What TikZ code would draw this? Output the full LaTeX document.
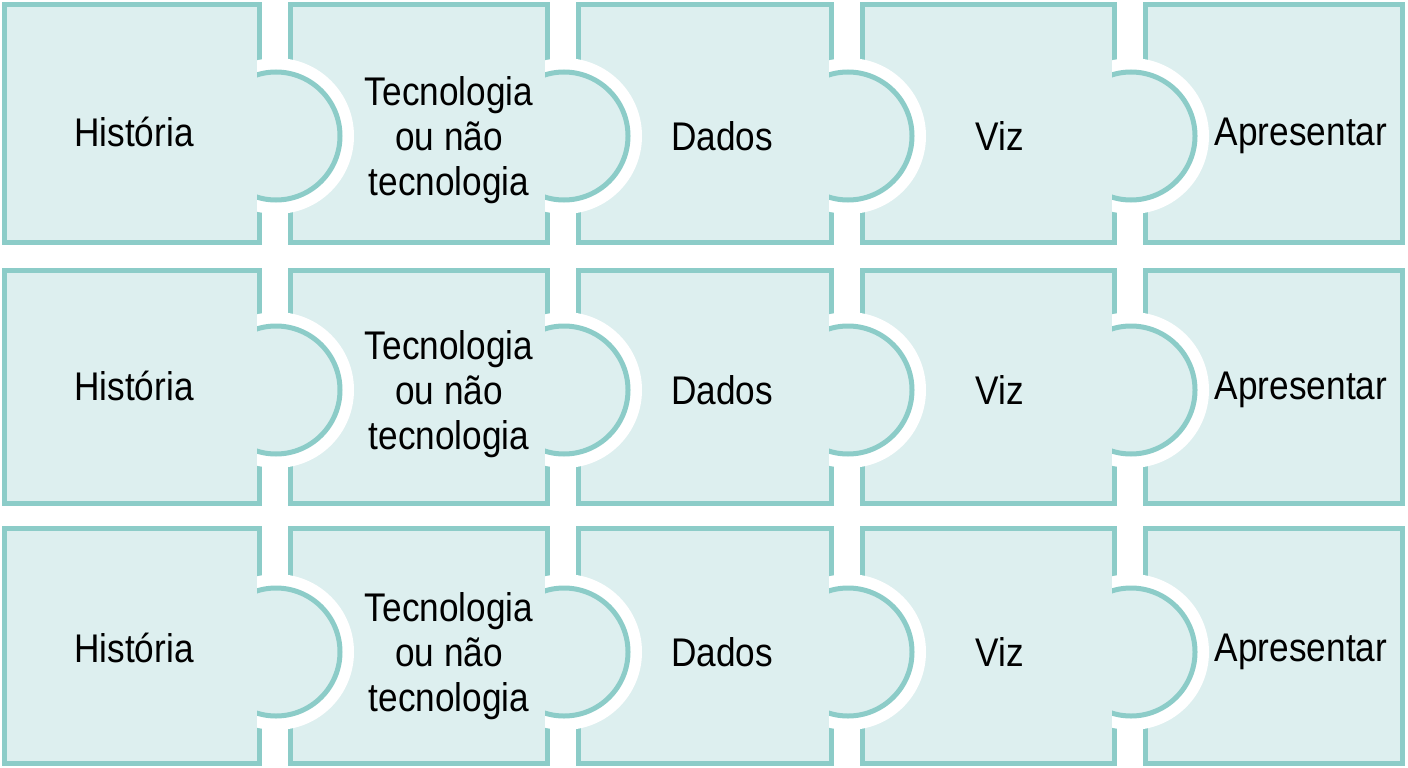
\documentclass[tikz,border=0pt]{standalone}
\usepackage{fontspec}
\setmainfont{Liberation Sans}[FakeStretch=0.88]
\usetikzlibrary{positioning}
\definecolor{pieceedge}{RGB}{140,204,200}
\definecolor{piecefill}{RGB}{221,239,239}
\tikzset{piece/.style={fill=piecefill, draw=pieceedge, line width=5pt},
knob/.style={fill=piecefill, draw=pieceedge, line width=5pt},
halo/.style={fill=white},
piecetext/.style={font=\fontsize{40}{45}\selectfont, align=center, inner sep=0pt}}
\begin{document}
\begin{tikzpicture}[x=1pt, y=-1pt]
    \useasboundingbox (0,0) rectangle (1408,768);
    % Pieces
    \foreach \top/\bot/\cy [count=\r] in {2/245/136, 268/506/390, 526/766/652} {
        \foreach \xl/\xr in {2/262, 288/550, 576/834, 860/1117, 1143/1405} {
            \draw[piece] (\xl+2.5, \top+2.5) rectangle (\xr-2.5, \bot-2.5);
        }
        % Knobs
        \foreach \xr in {262, 550, 834, 1117} {
            \begin{scope}
                \clip (\xr-5, \cy-120) rectangle (\xr+120, \cy+120);
                \fill[halo] (\xr+14, \cy) circle (78);
            \end{scope}
            \begin{scope}
                \clip (\xr-5, \cy-120) rectangle (\xr+120, \cy+120);
                \draw[knob] (\xr+14, \cy) circle (64);
            \end{scope}
        }
        % Labels
        \node[piecetext] (hist\r) at (134, \cy-4) {História};
        \node[piecetext] (tec\r) at (449, \cy+4) {Tecnologia\\ou não\\tecnologia};
        \node[piecetext] (dados\r) at (722, \cy) {Dados};
        \node[piecetext] (viz\r) at (1000, \cy) {Viz};
        \node[piecetext] (apr\r) at (1301, \cy) {Apresentar};
    }
\end{tikzpicture}
\end{document}
